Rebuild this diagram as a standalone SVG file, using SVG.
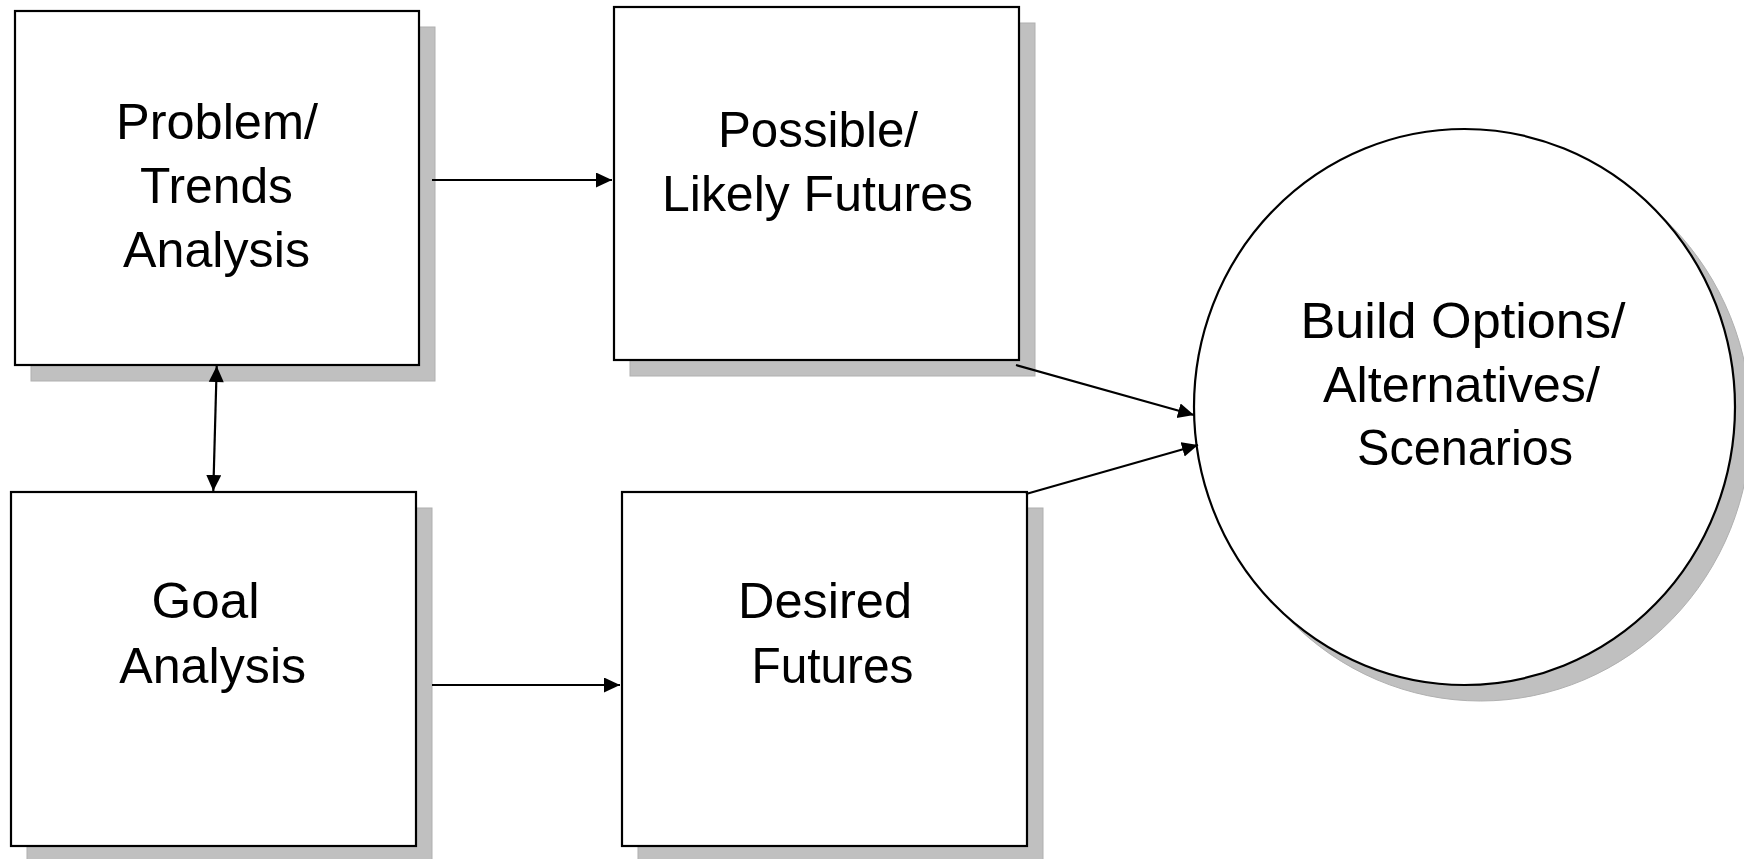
<svg xmlns="http://www.w3.org/2000/svg" width="1744" height="859" viewBox="0 0 1744 859">
  <style>
    .shadow { fill: #c0c0c0; stroke: #b0b0b0; stroke-width: 1; }
    .box { fill: #ffffff; stroke: #000000; stroke-width: 2.2; }
    .lbl { font-family: "Liberation Sans", Arial, sans-serif; font-size: 50px; fill: #000000; text-anchor: middle; }
    .conn { stroke: #000000; stroke-width: 2.2; fill: none; }
  </style>
  <defs>
    <marker id="arrowEnd" markerUnits="userSpaceOnUse" markerWidth="18" markerHeight="16" refX="16" refY="7.5" orient="auto">
      <path d="M0,0 L16,7.5 L0,15 Z" fill="#000000"/>
    </marker>
    <marker id="arrowStart" markerUnits="userSpaceOnUse" markerWidth="18" markerHeight="16" refX="0" refY="7.5" orient="auto">
      <path d="M16,0 L0,7.5 L16,15 Z" fill="#000000"/>
    </marker>
  </defs>
  <rect width="1744" height="859" fill="#ffffff"/>

  <g id="node-problem">
    <rect class="shadow" x="31" y="27" width="404" height="354"/>
    <rect class="box" x="15" y="11" width="404" height="354"/>
    <text class="lbl" x="217" y="139" textLength="202" lengthAdjust="spacingAndGlyphs">Problem/</text>
    <text class="lbl" x="216.5" y="203" textLength="153" lengthAdjust="spacingAndGlyphs">Trends</text>
    <text class="lbl" x="216.5" y="267" textLength="187" lengthAdjust="spacingAndGlyphs">Analysis</text>
  </g>

  <g id="node-possible">
    <rect class="shadow" x="630" y="23" width="405" height="353"/>
    <rect class="box" x="614" y="7" width="405" height="353"/>
    <text class="lbl" x="818" y="147" textLength="200" lengthAdjust="spacingAndGlyphs">Possible/</text>
    <text class="lbl" x="817.5" y="211" textLength="311" lengthAdjust="spacingAndGlyphs">Likely Futures</text>
  </g>

  <g id="node-goal">
    <rect class="shadow" x="27" y="508" width="405" height="354"/>
    <rect class="box" x="11" y="492" width="405" height="354"/>
    <text class="lbl" x="205.5" y="618" textLength="108" lengthAdjust="spacingAndGlyphs">Goal</text>
    <text class="lbl" x="212.7" y="683" textLength="187" lengthAdjust="spacingAndGlyphs">Analysis</text>
  </g>

  <g id="node-desired">
    <rect class="shadow" x="638" y="508" width="405" height="354"/>
    <rect class="box" x="622" y="492" width="405" height="354"/>
    <text class="lbl" x="825" y="618" textLength="174" lengthAdjust="spacingAndGlyphs">Desired</text>
    <text class="lbl" x="832.5" y="683" textLength="162" lengthAdjust="spacingAndGlyphs">Futures</text>
  </g>

  <g id="node-build">
    <ellipse class="shadow" cx="1480.5" cy="423" rx="270.5" ry="278"/>
    <ellipse class="box" cx="1464.5" cy="407" rx="270.5" ry="278"/>
    <text class="lbl" x="1463" y="338" textLength="325" lengthAdjust="spacingAndGlyphs">Build Options/</text>
    <text class="lbl" x="1461.5" y="402" textLength="277" lengthAdjust="spacingAndGlyphs">Alternatives/</text>
    <text class="lbl" x="1465" y="465" textLength="216" lengthAdjust="spacingAndGlyphs">Scenarios</text>
  </g>

  <g id="connectors">
    <line class="conn" x1="432" y1="180" x2="612" y2="180" marker-end="url(#arrowEnd)"/>
    <line class="conn" x1="432" y1="685" x2="620" y2="685" marker-end="url(#arrowEnd)"/>
    <line class="conn" x1="216.7" y1="366" x2="213.3" y2="491" marker-start="url(#arrowStart)" marker-end="url(#arrowEnd)"/>
    <line class="conn" x1="1016" y1="365" x2="1194" y2="415" marker-end="url(#arrowEnd)"/>
    <line class="conn" x1="1026" y1="494" x2="1198" y2="445" marker-end="url(#arrowEnd)"/>
  </g>
</svg>
